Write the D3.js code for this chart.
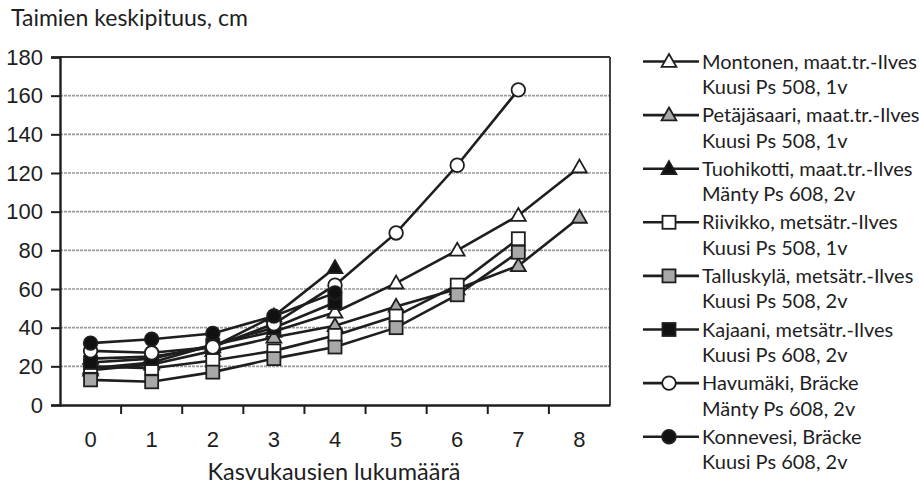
<!DOCTYPE html>
<html>
<head>
<meta charset="utf-8">
<script src="https://cdn.jsdelivr.net/npm/d3@7/dist/d3.min.js"></script>
<style>
  html, body { margin: 0; padding: 0; background: #fff; }
  svg { display: block; font-family: Lato, "Open Sans", sans-serif; }
</style>
</head>
<body>
<svg id="chart" width="919" height="487"></svg>
<script>
// Growing seasons (x categories)
const seasons = [0, 1, 2, 3, 4, 5, 6, 7, 8];
const yTicks = [0, 20, 40, 60, 80, 100, 120, 140, 160, 180];

// Mean seedling height (cm) per site
const montonen    = [19, 22, 31, 38, 48, 63, 80, 98, 123];
const petajasaari = [18, 21, 28, 35, 41, 51, 60, 72, 97];
const tuohikotti  = [24, 25, 30, 46, 71];
const riivikko    = [20, 19, 23, 28, 36, 46, 62, 86];
const talluskyla  = [13, 12, 17, 24, 30, 40, 57, 79];
const kajaani     = [22, 24, 31, 40, 53];
const havumaki    = [28, 27, 30, 42, 62, 89, 124, 163];
const konnevesi   = [32, 34, 37, 46, 58];

const seriesNames = [
  ["Montonen, maat.tr.-Ilves", "Kuusi Ps 508, 1v"],
  ["Petäjäsaari, maat.tr.-Ilves", "Kuusi Ps 508, 1v"],
  ["Tuohikotti, maat.tr.-Ilves", "Mänty Ps 608, 2v"],
  ["Riivikko, metsätr.-Ilves", "Kuusi Ps 508, 1v"],
  ["Talluskylä, metsätr.-Ilves", "Kuusi Ps 508, 2v"],
  ["Kajaani, metsätr.-Ilves", "Kuusi Ps 608, 2v"],
  ["Havumäki, Bräcke", "Mänty Ps 608, 2v"],
  ["Konnevesi, Bräcke", "Kuusi Ps 608, 2v"]
];
const seriesValues = [montonen, petajasaari, tuohikotti, riivikko, talluskyla, kajaani, havumaki, konnevesi];
const seriesShapes = ["triangle", "triangle", "triangle", "square", "square", "square", "circle", "circle"];
const seriesFills  = ["#fff", "#a8a8a8", "#111", "#fff", "#a8a8a8", "#111", "#fff", "#111"];

const yTitle = "Taimien keskipituus, cm";
const xTitle = "Kasvukausien lukumäärä";

const svg = d3.select("#chart");
const ink = "#1e1e1e";

const plot = { left: 60, right: 610, top: 57, bottom: 405 };

const x = d3.scaleBand().domain(seasons).range([plot.left, plot.right]).padding(0);
const y = d3.scaleLinear().domain([0, 180]).range([plot.bottom, plot.top]);
const cx = d => x(d) + x.bandwidth() / 2;

// Horizontal gridlines
svg.append("g").selectAll("line")
  .data(yTicks.filter(t => t > 0 && t < 180))
  .join("line")
  .attr("x1", plot.left).attr("x2", plot.right)
  .attr("y1", d => y(d)).attr("y2", d => y(d))
  .attr("stroke", "#9a9a9a").attr("stroke-width", 1.6)
  .attr("stroke-dasharray", "3,1");

// Plot frame: top and right edges
svg.append("line").attr("x1", plot.left).attr("x2", plot.right)
  .attr("y1", y(180)).attr("y2", y(180))
  .attr("stroke", "#333").attr("stroke-width", 2);
svg.append("line").attr("x1", plot.right).attr("x2", plot.right)
  .attr("y1", plot.top).attr("y2", plot.bottom)
  .attr("stroke", "#444").attr("stroke-width", 2);

// Y axis
const yAxis = svg.append("g")
  .attr("transform", `translate(${plot.left},0)`)
  .call(d3.axisLeft(y).tickValues(yTicks).tickSize(9).tickPadding(8));
yAxis.select(".domain").attr("stroke", ink).attr("stroke-width", 2.4);
yAxis.selectAll(".tick line").attr("stroke", ink).attr("stroke-width", 2);
yAxis.selectAll(".tick text").attr("fill", ink).style("font-size", "22px");

// X axis with ticks on category boundaries
const xAxis = svg.append("g")
  .attr("transform", `translate(0,${plot.bottom})`)
  .call(d3.axisBottom(x).tickSize(0).tickPadding(26));
xAxis.select(".domain").attr("stroke", ink).attr("stroke-width", 2.4);
xAxis.selectAll(".tick text").attr("fill", ink).style("font-size", "22px");
xAxis.append("g").selectAll("line")
  .data(seasons.slice(1))
  .join("line")
  .attr("x1", d => x(d)).attr("x2", d => x(d))
  .attr("y1", 0).attr("y2", 9)
  .attr("stroke", ink).attr("stroke-width", 2);

// Titles
svg.append("text").attr("x", 11).attr("y", 26)
  .attr("fill", ink).style("font-size", "23px").text(yTitle);
svg.append("text").attr("x", (plot.left + plot.right) / 2 - 1).attr("y", 480)
  .attr("text-anchor", "middle")
  .attr("fill", ink).style("font-size", "23.5px").text(xTitle);

// Marker drawing
function marker(g, shape, fill, px, py) {
  if (shape === "triangle") {
    g.append("path")
      .attr("d", d3.symbol(d3.symbolTriangle, 95)())
      .attr("transform", `translate(${px},${py + 1})`)
      .attr("fill", fill).attr("stroke", ink).attr("stroke-width", 1.8);
  } else if (shape === "square") {
    g.append("rect")
      .attr("x", px - 6.5).attr("y", py - 6.5)
      .attr("width", 13).attr("height", 13)
      .attr("fill", fill).attr("stroke", ink).attr("stroke-width", 1.8);
  } else {
    g.append("circle")
      .attr("cx", px).attr("cy", py).attr("r", 6.8)
      .attr("fill", fill).attr("stroke", ink).attr("stroke-width", 1.8);
  }
}

const line = d3.line().x((d, i) => cx(seasons[i])).y(d => y(d));

// Series: each line followed by its markers, later series on top
seriesValues.forEach((vals, s) => {
  const g = svg.append("g");
  g.append("path").datum(vals)
    .attr("d", line)
    .attr("fill", "none").attr("stroke", ink).attr("stroke-width", 2.6);
  vals.forEach((v, i) => marker(g, seriesShapes[s], seriesFills[s], cx(seasons[i]), y(v)));
});

// Legend
const legend = svg.append("g");
const legTop = 61.5, legStep = 53.6, legLine2 = 25.5;
seriesNames.forEach((names, s) => {
  const ly = legTop + s * legStep;
  const g = legend.append("g");
  g.append("line").attr("x1", 643).attr("x2", 699).attr("y1", ly).attr("y2", ly)
    .attr("stroke", ink).attr("stroke-width", 2.6);
  marker(g, seriesShapes[s], seriesFills[s], 669, ly);
  g.append("text").attr("x", 702).attr("y", ly + 7)
    .attr("fill", ink).style("font-size", "20px").text(names[0]);
  g.append("text").attr("x", 702).attr("y", ly + legLine2 + 7)
    .attr("fill", ink).style("font-size", "20px").text(names[1]);
});
</script>
</body>
</html>
